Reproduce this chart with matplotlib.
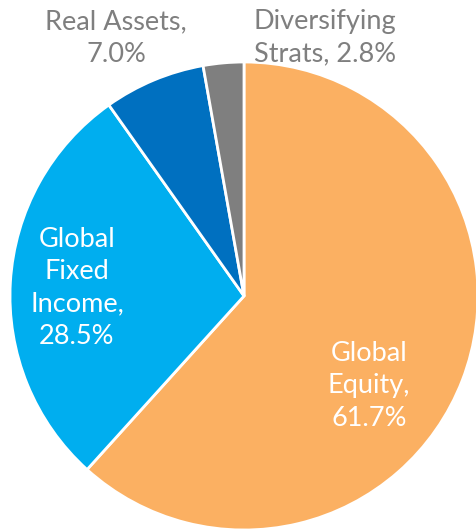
import matplotlib
matplotlib.use("Agg")
import matplotlib.pyplot as plt

labels = ["Global\nEquity,", "Global\nFixed\nIncome,", "Real Assets,", "Diversifying\nStrats,"]
values = [61.7, 28.5, 7.0, 2.8]
colors = ["#FBB062", "#00AEEF", "#0070C0", "#7F7F7F"]
text_colors = ["white", "white", "#7F7F7F", "#7F7F7F"]
separators = ["\n", "\n", "\n", " "]

W, H = 477, 532
fig = plt.figure(figsize=(W / 100, H / 100), dpi=100)
ax = fig.add_axes([0, 0, 1, 1])

cx, cy, r = 244, H - 296, 234
ax.pie(values, colors=colors, startangle=90, counterclock=False,
       center=(cx, cy), radius=r, frame=True,
       wedgeprops=dict(edgecolor="white", linewidth=2))
ax.set_xlim(0, W)
ax.set_ylim(0, H)
ax.set_aspect("equal")
ax.axis("off")

# label positions in pixel coords (x, y from top)
label_pos = [(369, 386), (77, 288), (116, 38), (325, 38)]
for lab, v, tc, sep, (x, y) in zip(labels, values, text_colors, separators, label_pos):
    ax.text(x, H - y, f"{lab}{sep}{v:.1f}%", ha="center", va="center",
            color=tc, fontsize=19.5, family="Lato", linespacing=1.38)

fig.savefig("out.png", dpi=100)
